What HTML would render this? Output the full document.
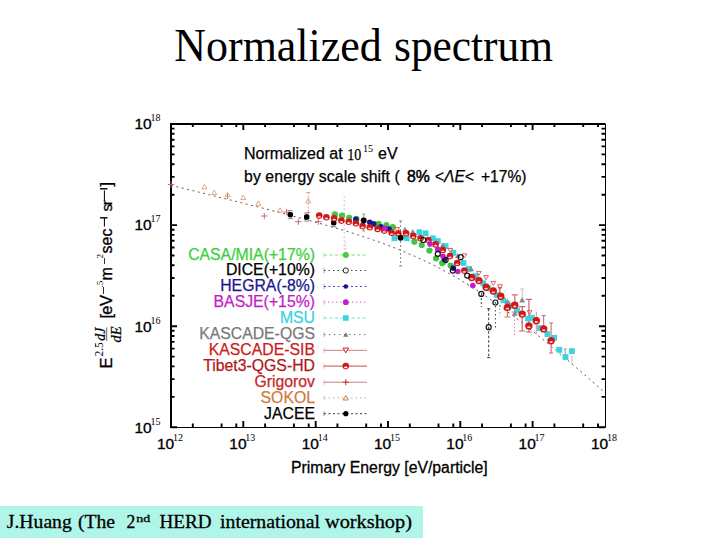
<!DOCTYPE html>
<html><head><meta charset="utf-8"><style>
html,body{margin:0;padding:0;background:#fff;}
body{width:720px;height:540px;position:relative;overflow:hidden;}
svg{position:absolute;left:0;top:0;}
.s{font-family:"Liberation Sans",sans-serif;}
.r{font-family:"Liberation Serif",serif;}
</style></head><body>

<svg width="720" height="540" viewBox="0 0 720 540">
<path d="M171 427.5 H605.5 V124" fill="none" stroke="#000" stroke-width="1"/>
<path d="M171 123 V428 M170 124 H605.5" stroke="#000" stroke-width="2" fill="none"/>
<path d="M171.0 427 v-6 M171.0 124 v6 M192.8 427 v-3.5 M192.8 124 v3 M221.6 427 v-3.5 M221.6 124 v3 M236.3 427 v-3.5 M236.3 124 v3 M243.3 427 v-6 M243.3 124 v6 M265.1 427 v-3.5 M265.1 124 v3 M293.9 427 v-3.5 M293.9 124 v3 M308.7 427 v-3.5 M308.7 124 v3 M315.7 427 v-6 M315.7 124 v6 M337.4 427 v-3.5 M337.4 124 v3 M366.2 427 v-3.5 M366.2 124 v3 M381.0 427 v-3.5 M381.0 124 v3 M388.0 427 v-6 M388.0 124 v6 M409.8 427 v-3.5 M409.8 124 v3 M438.5 427 v-3.5 M438.5 124 v3 M453.3 427 v-3.5 M453.3 124 v3 M460.3 427 v-6 M460.3 124 v6 M482.1 427 v-3.5 M482.1 124 v3 M510.9 427 v-3.5 M510.9 124 v3 M525.6 427 v-3.5 M525.6 124 v3 M532.6 427 v-6 M532.6 124 v6 M554.4 427 v-3.5 M554.4 124 v3 M583.2 427 v-3.5 M583.2 124 v3 M598.0 427 v-3.5 M598.0 124 v3" stroke="#000" stroke-width="1.9"/>
<path d="M171 427.3 h6 M605 427.3 h-6 M171 396.9 h3.5 M605 396.9 h-3.5 M171 379.1 h3.5 M605 379.1 h-3.5 M171 366.4 h3.5 M605 366.4 h-3.5 M171 356.6 h3.5 M605 356.6 h-3.5 M171 348.6 h3.5 M605 348.6 h-3.5 M171 341.9 h3.5 M605 341.9 h-3.5 M171 336.0 h3.5 M605 336.0 h-3.5 M171 330.8 h3.5 M605 330.8 h-3.5 M171 326.2 h6 M605 326.2 h-6 M171 295.8 h3.5 M605 295.8 h-3.5 M171 278.0 h3.5 M605 278.0 h-3.5 M171 265.3 h3.5 M605 265.3 h-3.5 M171 255.5 h3.5 M605 255.5 h-3.5 M171 247.5 h3.5 M605 247.5 h-3.5 M171 240.8 h3.5 M605 240.8 h-3.5 M171 234.9 h3.5 M605 234.9 h-3.5 M171 229.7 h3.5 M605 229.7 h-3.5 M171 225.1 h6 M605 225.1 h-6 M171 194.7 h3.5 M605 194.7 h-3.5 M171 176.9 h3.5 M605 176.9 h-3.5 M171 164.2 h3.5 M605 164.2 h-3.5 M171 154.4 h3.5 M605 154.4 h-3.5 M171 146.4 h3.5 M605 146.4 h-3.5 M171 139.7 h3.5 M605 139.7 h-3.5 M171 133.8 h3.5 M605 133.8 h-3.5 M171 128.6 h3.5 M605 128.6 h-3.5" stroke="#000" stroke-width="1.9"/>
<text x="157.0" y="449" class="s" font-size="15.5" fill="#000" stroke="#000" stroke-width="0.35">10</text>
<text x="173.0" y="441" class="r" font-size="10" fill="#000">12</text>
<text x="229.3" y="449" class="s" font-size="15.5" fill="#000" stroke="#000" stroke-width="0.35">10</text>
<text x="245.3" y="441" class="r" font-size="10" fill="#000">13</text>
<text x="301.7" y="449" class="s" font-size="15.5" fill="#000" stroke="#000" stroke-width="0.35">10</text>
<text x="317.7" y="441" class="r" font-size="10" fill="#000">14</text>
<text x="374.0" y="449" class="s" font-size="15.5" fill="#000" stroke="#000" stroke-width="0.35">10</text>
<text x="390.0" y="441" class="r" font-size="10" fill="#000">15</text>
<text x="446.3" y="449" class="s" font-size="15.5" fill="#000" stroke="#000" stroke-width="0.35">10</text>
<text x="462.3" y="441" class="r" font-size="10" fill="#000">16</text>
<text x="518.6" y="449" class="s" font-size="15.5" fill="#000" stroke="#000" stroke-width="0.35">10</text>
<text x="534.6" y="441" class="r" font-size="10" fill="#000">17</text>
<text x="591.0" y="449" class="s" font-size="15.5" fill="#000" stroke="#000" stroke-width="0.35">10</text>
<text x="607.0" y="441" class="r" font-size="10" fill="#000">18</text>
<text x="134.5" y="432.6" class="s" font-size="15.5" fill="#000" stroke="#000" stroke-width="0.35">10</text>
<text x="150.5" y="424.6" class="r" font-size="10" fill="#000">15</text>
<text x="134.5" y="331.5" class="s" font-size="15.5" fill="#000" stroke="#000" stroke-width="0.35">10</text>
<text x="150.5" y="323.5" class="r" font-size="10" fill="#000">16</text>
<text x="134.5" y="230.4" class="s" font-size="15.5" fill="#000" stroke="#000" stroke-width="0.35">10</text>
<text x="150.5" y="222.4" class="r" font-size="10" fill="#000">17</text>
<text x="134.5" y="129.3" class="s" font-size="15.5" fill="#000" stroke="#000" stroke-width="0.35">10</text>
<text x="150.5" y="121.3" class="r" font-size="10" fill="#000">18</text>
<text x="291" y="472.5" class="s" font-size="15.8" fill="#000" stroke="#000" stroke-width="0.3">Primary Energy [eV/particle]</text>
<text x="315" y="259.8" class="s" font-size="15.8" fill="#3ccf3c" stroke="#3ccf3c" stroke-width="0.25" text-anchor="end">CASA/MIA(+17%)</text>
<text x="315" y="275.3" class="s" font-size="15.8" fill="#000" stroke="#000" stroke-width="0.25" text-anchor="end">DICE(+10%)</text>
<text x="315" y="291.3" class="s" font-size="15.8" fill="#1a168c" stroke="#1a168c" stroke-width="0.25" text-anchor="end">HEGRA(-8%)</text>
<text x="315" y="307.0" class="s" font-size="15.8" fill="#c21ec8" stroke="#c21ec8" stroke-width="0.25" text-anchor="end">BASJE(+15%)</text>
<text x="315" y="322.8" class="s" font-size="15.8" fill="#38d4e0" stroke="#38d4e0" stroke-width="0.25" text-anchor="end">MSU</text>
<text x="315" y="339.4" class="s" font-size="15.8" fill="#7a7a7a" stroke="#7a7a7a" stroke-width="0.25" text-anchor="end">KASCADE-QGS</text>
<text x="315" y="355.1" class="s" font-size="15.8" fill="#cc1c1c" stroke="#cc1c1c" stroke-width="0.25" text-anchor="end">KASCADE-SIB</text>
<text x="315" y="370.9" class="s" font-size="15.8" fill="#b01818" stroke="#b01818" stroke-width="0.25" text-anchor="end">Tibet3-QGS-HD</text>
<text x="315" y="387.0" class="s" font-size="15.8" fill="#c42a2a" stroke="#c42a2a" stroke-width="0.25" text-anchor="end">Grigorov</text>
<text x="315" y="402.7" class="s" font-size="15.8" fill="#d07a3c" stroke="#d07a3c" stroke-width="0.25" text-anchor="end">SOKOL</text>
<text x="315" y="418.5" class="s" font-size="15.8" fill="#000" stroke="#000" stroke-width="0.25" text-anchor="end">JACEE</text>
<text x="244" y="159.3" class="s" font-size="16" fill="#000" stroke="#000" stroke-width="0.25">Normalized at</text>
<text x="347.3" y="160" class="r" font-size="16.5" fill="#000" stroke="#000" stroke-width="0.25" textLength="14" lengthAdjust="spacingAndGlyphs">10</text>
<text x="363" y="152" class="r" font-size="10" fill="#000">15</text>
<text x="378" y="159.3" class="s" font-size="16" fill="#000" stroke="#000" stroke-width="0.25">eV</text>
<text x="244" y="182.4" class="s" font-size="15.8" fill="#000" stroke="#000" stroke-width="0.25" letter-spacing="0.1">by energy scale shift (</text>
<text x="407" y="182.4" class="s" font-size="15.8" fill="#000" stroke="#000" stroke-width="0.5">8%</text>
<text x="435" y="182.4" class="s" font-size="15.6" fill="#000" stroke="#000" stroke-width="0.25">&lt;<tspan font-style="italic">&#923;E</tspan>&lt;</text>
<text x="481" y="182.4" class="s" font-size="15.6" fill="#000" stroke="#000" stroke-width="0.25">+17%)</text>
<g transform="translate(112,368) rotate(-90)" fill="#000"><text x="-0.5" y="0" class="s" font-size="16.5" stroke="#000" stroke-width="0.3">E</text><text x="11.5" y="-9" class="r" font-size="11.5">2.5</text><text x="27.3" y="-6.6" class="r" font-style="italic" font-size="14" stroke="#000" stroke-width="0.25">dJ</text><rect x="27" y="-5.7" width="13.5" height="0.9" fill="#555"/><text x="25.6" y="8.9" class="r" font-style="italic" font-size="14.5" stroke="#000" stroke-width="0.25">dE</text><text x="49.4" y="0" class="s" font-size="16.5" stroke="#000" stroke-width="0.3" letter-spacing="-0.6">[eV</text><rect x="74" y="-8.9" width="7" height="0.8" fill="#000"/><text x="80.5" y="-9" class="r" font-size="9">.5</text><text x="87.6" y="0" class="s" font-size="16" stroke="#000" stroke-width="0.3">m</text><rect x="104" y="-8.0" width="6" height="0.8" fill="#000"/><text x="109.5" y="-9" class="r" font-size="9">2</text><text x="114.6" y="0" class="s" font-size="16" stroke="#000" stroke-width="0.3">sec</text><rect x="141.5" y="-8.1" width="8.5" height="1.0" fill="#000"/><rect x="149.5" y="-12" width="1.4" height="7.5" fill="#000"/><text x="156.5" y="0" class="s" font-size="15.5" stroke="#000" stroke-width="0.3" letter-spacing="-1.6">sr</text><rect x="167.5" y="-8.1" width="10" height="1.0" fill="#000"/><rect x="178.5" y="-12" width="1.4" height="7.5" fill="#000"/><text x="181.6" y="0" class="s" font-size="16.5" stroke="#000" stroke-width="0.3">]</text></g>
<path d="M171.0 185.3 L176.5 186.7 L182.0 188.0 L187.4 189.4 L192.9 190.7 L198.4 192.1 L203.9 193.4 L209.4 194.8 L214.8 196.1 L220.3 197.5 L225.8 198.9 L231.3 200.2 L236.8 201.6 L242.3 203.0 L247.7 204.4 L253.2 205.8 L258.7 207.1 L264.2 208.5 L269.7 210.0 L275.1 211.4 L280.6 212.8 L286.1 214.2 L291.6 215.7 L297.1 217.2 L302.5 218.6 L308.0 220.1 L313.5 221.6 L319.0 223.2 L324.5 224.7 L329.9 226.3 L335.4 227.9 L340.9 229.6 L346.4 231.2 L351.9 232.9 L357.4 234.7 L362.8 236.5 L368.3 238.3 L373.8 240.2 L379.3 242.1 L384.8 244.1 L390.2 246.2 L395.7 248.3 L401.2 250.5 L406.7 252.8 L412.2 255.2 L417.6 257.6 L423.1 260.1 L428.6 262.8 L434.1 265.5 L439.6 268.3 L445.1 271.3 L450.5 274.3 L456.0 277.4 L461.5 280.6 L467.0 284.0 L472.5 287.4 L477.9 291.0 L483.4 294.6 L488.9 298.3 L494.4 302.2 L499.9 306.1 L505.3 310.1 L510.8 314.2 L516.3 318.3 L521.8 322.6 L527.3 326.9 L532.7 331.2 L538.2 335.6 L543.7 340.1 L549.2 344.6 L554.7 349.2 L560.2 353.8 L565.6 358.5 L571.1 363.2 L576.6 367.9 L582.1 372.6 L587.6 377.4 L593.0 382.2 L598.5 387.0 L604.0 391.9" fill="none" stroke="#505050" stroke-width="0.95" stroke-dasharray="2 3.5"/>
<g><path d="M344.2 196 V252" stroke="#d0c0c0" stroke-width="0.9" stroke-dasharray="2 2" opacity="1"/><path d="M400.6 221 V266" stroke="#888" stroke-width="1" stroke-dasharray="2 2" opacity="1"/><path d="M399.1 221 h3 M399.1 266 h3" stroke="#888" stroke-width="1" opacity="1"/><path d="M363.7 214 V231" stroke="#999" stroke-width="1" opacity="1"/><path d="M362.2 214 h3 M362.2 231 h3" stroke="#999" stroke-width="1" opacity="1"/><path d="M308.3 192.5 V212.5" stroke="#e0a080" stroke-width="0.9" stroke-dasharray="2 1.5" opacity="1"/><path d="M306.3 192.5 h4 M306.3 212.5 h4" stroke="#e0a080" stroke-width="0.9" opacity="1"/><path d="M227.5 194 V199" stroke="#d07a3c" stroke-width="1" opacity="1"/><path d="M481.3 294 V307" stroke="#444" stroke-width="1" stroke-dasharray="2 2" opacity="1"/><path d="M495.4 302 V328" stroke="#444" stroke-width="1" stroke-dasharray="1.5 2.5" opacity="1"/><path d="M488.7 308.7 V357.6" stroke="#333" stroke-width="1" stroke-dasharray="2.5 2" opacity="1"/><path d="M487.2 308.7 h3 M487.2 357.6 h3" stroke="#333" stroke-width="1" opacity="1"/><path d="M499.8 287.8 V299.4" stroke="#cc1c1c" stroke-width="1" opacity="1"/><path d="M497.8 287.8 h4 M497.8 299.4 h4" stroke="#cc1c1c" stroke-width="1" opacity="1"/><path d="M499.8 305 V316" stroke="#999" stroke-width="1" stroke-dasharray="1.5 2" opacity="1"/><path d="M514.6 316 V335" stroke="#e08080" stroke-width="1" stroke-dasharray="1.5 2" opacity="1"/><path d="M507.4 302 V317" stroke="#cc7070" stroke-width="1.2" opacity="1"/><path d="M504.4 302 h6 M504.4 317 h6" stroke="#cc7070" stroke-width="1.2" opacity="1"/><path d="M514.8 294.8 V312" stroke="#cc7070" stroke-width="1.2" opacity="1"/><path d="M511.79999999999995 294.8 h6 M511.79999999999995 312 h6" stroke="#cc7070" stroke-width="1.2" opacity="1"/><path d="M522.2 306.7 V331" stroke="#c06868" stroke-width="1.2" opacity="1"/><path d="M519.2 306.7 h6 M519.2 331 h6" stroke="#c06868" stroke-width="1.2" opacity="1"/><path d="M528.9 299.3 V332" stroke="#c06868" stroke-width="1.2" opacity="1"/><path d="M525.9 299.3 h6 M525.9 332 h6" stroke="#c06868" stroke-width="1.2" opacity="1"/><path d="M522.2 289 V300" stroke="#c0c0c0" stroke-width="1" opacity="1"/><path d="M520.2 289 h4 M520.2 300 h4" stroke="#c0c0c0" stroke-width="1" opacity="1"/><path d="M543.7 315.6 V327.4" stroke="#d06060" stroke-width="1" opacity="1"/><path d="M541.7 315.6 h4 M541.7 327.4 h4" stroke="#d06060" stroke-width="1" opacity="1"/><path d="M551.1 323 V353" stroke="#d06060" stroke-width="1" opacity="1"/><path d="M549.1 323 h4 M549.1 353 h4" stroke="#d06060" stroke-width="1" opacity="1"/><path d="M536.3 312 V334" stroke="#e09090" stroke-width="1" opacity="1"/><path d="M565.2 349 V358" stroke="#999" stroke-width="1" opacity="1"/><path d="M563.7 349 h3 M563.7 358 h3" stroke="#999" stroke-width="1" opacity="1"/><path d="M571.9 356 V364" stroke="#bbb" stroke-width="1" opacity="1"/><path d="M201.8 188.78 L207.0 188.78 L204.4 184.35999999999999 Z" fill="none" stroke="#dc9a70" stroke-width="0.85"/><path d="M211.6 194.58 L216.79999999999998 194.58 L214.2 190.16 Z" fill="none" stroke="#dc9a70" stroke-width="0.85"/><path d="M224.9 196.78 L230.1 196.78 L227.5 192.35999999999999 Z" fill="none" stroke="#dc9a70" stroke-width="0.85"/><path d="M240.70000000000002 199.58 L245.9 199.58 L243.3 195.16 Z" fill="none" stroke="#dc9a70" stroke-width="0.85"/><path d="M255.70000000000002 205.38000000000002 L260.90000000000003 205.38000000000002 L258.3 200.96 Z" fill="none" stroke="#dc9a70" stroke-width="0.85"/><path d="M277.4 212.08 L282.6 212.08 L280 207.66 Z" fill="none" stroke="#dc9a70" stroke-width="0.85"/><path d="M305.7 202.88000000000002 L310.90000000000003 202.88000000000002 L308.3 198.46 Z" fill="none" stroke="#dc9a70" stroke-width="0.85"/><path d="M167.8 184.5 h6.4 M171 181.3 v6.4" stroke="#c85a5a" stroke-width="0.9"/><path d="M261.1 216 h6.4 M264.3 212.8 v6.4" stroke="#c85a5a" stroke-width="0.9"/><path d="M283.5 212 h6.4 M286.7 208.8 v6.4" stroke="#c85a5a" stroke-width="0.9"/><path d="M295.1 221.7 h6.4 M298.3 218.5 v6.4" stroke="#c85a5a" stroke-width="0.9"/><path d="M315.1 221.7 h6.4 M318.3 218.5 v6.4" stroke="#c85a5a" stroke-width="0.9"/><rect x="287.6" y="212.0" width="5.4" height="5.4" rx="1.8" fill="#000"/><rect x="304.0" y="214.3" width="5.4" height="5.4" rx="1.8" fill="#000"/><rect x="331.0" y="220.10000000000002" width="5.4" height="5.4" rx="1.8" fill="#000"/><path d="M287.8 210.7 h5 M287.8 218.7 h5" stroke="#666" stroke-width="0.8"/><path d="M304.2 213 h5 M304.2 221 h5" stroke="#666" stroke-width="0.8"/><path d="M331.2 218.8 h5 M331.2 226.8 h5" stroke="#666" stroke-width="0.8"/><circle cx="334.8" cy="214.4" r="3.1" fill="#44c444"/><circle cx="342" cy="215.6" r="3.1" fill="#44c444"/><circle cx="349.2" cy="217.8" r="3.1" fill="#44c444"/><circle cx="356.4" cy="218.9" r="3.1" fill="#44c444"/><circle cx="378.7" cy="223.9" r="3.1" fill="#44c444"/><circle cx="386.4" cy="225" r="3.1" fill="#44c444"/><circle cx="392.8" cy="227.2" r="3.1" fill="#44c444"/><circle cx="414.4" cy="241.7" r="3.1" fill="#44c444"/><circle cx="421.7" cy="245" r="3.1" fill="#44c444"/><circle cx="429.4" cy="250.6" r="3.1" fill="#44c444"/><circle cx="436.1" cy="258.3" r="3.1" fill="#44c444"/><circle cx="443.9" cy="261.7" r="3.1" fill="#44c444"/><circle cx="450.6" cy="265.6" r="3.1" fill="#44c444"/><circle cx="442.2" cy="263" r="3.1" fill="#44c444"/><circle cx="355.9" cy="219.4" r="2.8" fill="#1a168c"/><circle cx="369.8" cy="222.2" r="2.8" fill="#1a168c"/><circle cx="373.7" cy="223.9" r="2.8" fill="#1a168c"/><circle cx="380.9" cy="226.7" r="2.8" fill="#1a168c"/><circle cx="444.4" cy="258.9" r="2.8" fill="#1a168c"/><circle cx="453.3" cy="268.1" r="2.8" fill="#1a168c"/><circle cx="389" cy="229" r="2.8" fill="#1a168c"/><rect x="391.5" y="235.4" width="5.8" height="5.8" fill="#38d4e0"/><rect x="403.8" y="235.4" width="5.8" height="5.8" fill="#38d4e0"/><rect x="416.5" y="229.29999999999998" width="5.8" height="5.8" fill="#38d4e0"/><rect x="422.70000000000005" y="230.4" width="5.8" height="5.8" fill="#38d4e0"/><rect x="429.90000000000003" y="235.4" width="5.8" height="5.8" fill="#38d4e0"/><rect x="434.90000000000003" y="238.2" width="5.8" height="5.8" fill="#38d4e0"/><rect x="442.70000000000005" y="243.2" width="5.8" height="5.8" fill="#38d4e0"/><rect x="450.40000000000003" y="249.9" width="5.8" height="5.8" fill="#38d4e0"/><rect x="460.6" y="260.1" width="5.8" height="5.8" fill="#38d4e0"/><rect x="466.0" y="266.0" width="5.8" height="5.8" fill="#38d4e0"/><rect x="472.70000000000005" y="273.20000000000005" width="5.8" height="5.8" fill="#38d4e0"/><rect x="480.40000000000003" y="280.40000000000003" width="5.8" height="5.8" fill="#38d4e0"/><rect x="485.40000000000003" y="285.40000000000003" width="5.8" height="5.8" fill="#38d4e0"/><rect x="493.8" y="292.1" width="5.8" height="5.8" fill="#38d4e0"/><rect x="500.40000000000003" y="297.40000000000003" width="5.8" height="5.8" fill="#38d4e0"/><rect x="507.90000000000003" y="302.90000000000003" width="5.8" height="5.8" fill="#38d4e0"/><rect x="514.1" y="307.5" width="5.8" height="5.8" fill="#38d4e0"/><rect x="525.2" y="315.6" width="5.8" height="5.8" fill="#38d4e0"/><rect x="529.0" y="314.90000000000003" width="5.8" height="5.8" fill="#38d4e0"/><rect x="537.1" y="325.20000000000005" width="5.8" height="5.8" fill="#38d4e0"/><rect x="544.5" y="331.20000000000005" width="5.8" height="5.8" fill="#38d4e0"/><rect x="551.2" y="334.90000000000003" width="5.8" height="5.8" fill="#38d4e0"/><rect x="556.4" y="346.90000000000003" width="5.8" height="5.8" fill="#38d4e0"/><rect x="562.6" y="354.1" width="5.8" height="5.8" fill="#38d4e0"/><rect x="569.0" y="348.20000000000005" width="5.8" height="5.8" fill="#38d4e0"/><path d="M402 231.8 L408 231.8 L405 226.70000000000002 Z" fill="#8a8a8a"/><path d="M409.8 234.1 L415.8 234.1 L412.8 229.0 Z" fill="#8a8a8a"/><path d="M439.8 247.4 L445.8 247.4 L442.8 242.3 Z" fill="#8a8a8a"/><path d="M454.8 258.0 L460.8 258.0 L457.8 252.9 Z" fill="#8a8a8a"/><path d="M468.1 271.29999999999995 L474.1 271.29999999999995 L471.1 266.2 Z" fill="#8a8a8a"/><path d="M504.4 303.9 L510.4 303.9 L507.4 298.8 Z" fill="#8a8a8a"/><path d="M519.2 302.4 L525.2 302.4 L522.2 297.3 Z" fill="#8a8a8a"/><path d="M511.79999999999995 315.7 L517.8 315.7 L514.8 310.6 Z" fill="#8a8a8a"/><circle cx="319.2" cy="215.6" r="3.3" fill="#d01818"/><ellipse cx="319.2" cy="216.9" rx="1.7" ry="0.9" fill="#fff" opacity="0.8"/><circle cx="326.4" cy="217.2" r="3.3" fill="#d01818"/><ellipse cx="326.4" cy="218.5" rx="1.7" ry="0.9" fill="#fff" opacity="0.8"/><circle cx="334.2" cy="218.3" r="3.3" fill="#d01818"/><ellipse cx="334.2" cy="219.60000000000002" rx="1.7" ry="0.9" fill="#fff" opacity="0.8"/><circle cx="341.4" cy="220.6" r="3.3" fill="#d01818"/><ellipse cx="341.4" cy="221.9" rx="1.7" ry="0.9" fill="#fff" opacity="0.8"/><circle cx="348.7" cy="221.7" r="3.3" fill="#d01818"/><ellipse cx="348.7" cy="223.0" rx="1.7" ry="0.9" fill="#fff" opacity="0.8"/><circle cx="355.9" cy="223.3" r="3.3" fill="#d01818"/><ellipse cx="355.9" cy="224.60000000000002" rx="1.7" ry="0.9" fill="#fff" opacity="0.8"/><circle cx="362.6" cy="226.1" r="3.3" fill="#d01818"/><ellipse cx="362.6" cy="227.4" rx="1.7" ry="0.9" fill="#fff" opacity="0.8"/><circle cx="369.8" cy="227.2" r="3.3" fill="#d01818"/><ellipse cx="369.8" cy="228.5" rx="1.7" ry="0.9" fill="#fff" opacity="0.8"/><circle cx="377.6" cy="228.9" r="3.3" fill="#d01818"/><ellipse cx="377.6" cy="230.20000000000002" rx="1.7" ry="0.9" fill="#fff" opacity="0.8"/><circle cx="384.2" cy="230.6" r="3.3" fill="#d01818"/><ellipse cx="384.2" cy="231.9" rx="1.7" ry="0.9" fill="#fff" opacity="0.8"/><circle cx="391.7" cy="232.8" r="3.3" fill="#d01818"/><ellipse cx="391.7" cy="234.10000000000002" rx="1.7" ry="0.9" fill="#fff" opacity="0.8"/><circle cx="398.3" cy="233.3" r="3.3" fill="#d01818"/><ellipse cx="398.3" cy="234.60000000000002" rx="1.7" ry="0.9" fill="#fff" opacity="0.8"/><circle cx="406.1" cy="233.3" r="3.3" fill="#d01818"/><ellipse cx="406.1" cy="234.60000000000002" rx="1.7" ry="0.9" fill="#fff" opacity="0.8"/><circle cx="413.3" cy="236.1" r="3.3" fill="#d01818"/><ellipse cx="413.3" cy="237.4" rx="1.7" ry="0.9" fill="#fff" opacity="0.8"/><circle cx="420.6" cy="238.3" r="3.3" fill="#d01818"/><ellipse cx="420.6" cy="239.60000000000002" rx="1.7" ry="0.9" fill="#fff" opacity="0.8"/><circle cx="428.3" cy="240" r="3.3" fill="#d01818"/><ellipse cx="428.3" cy="241.3" rx="1.7" ry="0.9" fill="#fff" opacity="0.8"/><circle cx="435.6" cy="244.4" r="3.3" fill="#d01818"/><ellipse cx="435.6" cy="245.70000000000002" rx="1.7" ry="0.9" fill="#fff" opacity="0.8"/><circle cx="442.8" cy="250" r="3.3" fill="#d01818"/><ellipse cx="442.8" cy="251.3" rx="1.7" ry="0.9" fill="#fff" opacity="0.8"/><circle cx="450" cy="256.1" r="3.3" fill="#d01818"/><ellipse cx="450" cy="257.40000000000003" rx="1.7" ry="0.9" fill="#fff" opacity="0.8"/><circle cx="457.2" cy="263" r="3.3" fill="#d01818"/><ellipse cx="457.2" cy="264.3" rx="1.7" ry="0.9" fill="#fff" opacity="0.8"/><circle cx="464.4" cy="270.6" r="3.3" fill="#d01818"/><ellipse cx="464.4" cy="271.90000000000003" rx="1.7" ry="0.9" fill="#fff" opacity="0.8"/><circle cx="471.7" cy="277.5" r="3.7" fill="#d01818"/><ellipse cx="471.7" cy="278.8" rx="1.7" ry="0.9" fill="#fff" opacity="0.8"/><circle cx="478.9" cy="280.6" r="3.7" fill="#d01818"/><ellipse cx="478.9" cy="281.90000000000003" rx="1.7" ry="0.9" fill="#fff" opacity="0.8"/><circle cx="486.1" cy="287.3" r="3.7" fill="#d01818"/><ellipse cx="486.1" cy="288.6" rx="1.7" ry="0.9" fill="#fff" opacity="0.8"/><circle cx="493.3" cy="291" r="3.7" fill="#d01818"/><ellipse cx="493.3" cy="292.3" rx="1.7" ry="0.9" fill="#fff" opacity="0.8"/><circle cx="500.7" cy="296.3" r="3.7" fill="#d01818"/><ellipse cx="500.7" cy="297.6" rx="1.7" ry="0.9" fill="#fff" opacity="0.8"/><circle cx="507.4" cy="307.4" r="3.7" fill="#d01818"/><ellipse cx="507.4" cy="308.7" rx="1.7" ry="0.9" fill="#fff" opacity="0.8"/><circle cx="514.8" cy="305.2" r="3.7" fill="#d01818"/><ellipse cx="514.8" cy="306.5" rx="1.7" ry="0.9" fill="#fff" opacity="0.8"/><circle cx="522.2" cy="314.1" r="3.7" fill="#d01818"/><ellipse cx="522.2" cy="315.40000000000003" rx="1.7" ry="0.9" fill="#fff" opacity="0.8"/><circle cx="528.9" cy="325.9" r="3.7" fill="#d01818"/><ellipse cx="528.9" cy="327.2" rx="1.7" ry="0.9" fill="#fff" opacity="0.8"/><circle cx="536.3" cy="320.7" r="3.7" fill="#d01818"/><ellipse cx="536.3" cy="322.0" rx="1.7" ry="0.9" fill="#fff" opacity="0.8"/><circle cx="543.7" cy="328.9" r="3.7" fill="#d01818"/><ellipse cx="543.7" cy="330.2" rx="1.7" ry="0.9" fill="#fff" opacity="0.8"/><circle cx="551.1" cy="340.7" r="3.7" fill="#d01818"/><ellipse cx="551.1" cy="342.0" rx="1.7" ry="0.9" fill="#fff" opacity="0.8"/><circle cx="384.8" cy="228.3" r="2.8" fill="#c21ec8"/><circle cx="430" cy="243.9" r="2.8" fill="#c21ec8"/><circle cx="437.8" cy="249.4" r="2.8" fill="#c21ec8"/><circle cx="443" cy="256.3" r="2.8" fill="#c21ec8"/><circle cx="457.8" cy="271.5" r="2.8" fill="#c21ec8"/><circle cx="472.8" cy="285.6" r="2.8" fill="#c21ec8"/><path d="M394.8 227.48000000000002 L399.59999999999997 227.48000000000002 L397.2 231.56 Z" fill="none" stroke="#d85050" stroke-width="0.9"/><path d="M448.0 248.48000000000002 L452.79999999999995 248.48000000000002 L450.4 252.56 Z" fill="none" stroke="#d85050" stroke-width="0.9"/><path d="M462.0 253.88000000000002 L466.79999999999995 253.88000000000002 L464.4 257.96000000000004 Z" fill="none" stroke="#d85050" stroke-width="0.9"/><path d="M476.5 271.38 L481.29999999999995 271.38 L478.9 275.46000000000004 Z" fill="none" stroke="#d85050" stroke-width="0.9"/><path d="M483.70000000000005 275.58 L488.5 275.58 L486.1 279.66 Z" fill="none" stroke="#d85050" stroke-width="0.9"/><path d="M490.90000000000003 281.38 L495.7 281.38 L493.3 285.46000000000004 Z" fill="none" stroke="#d85050" stroke-width="0.9"/><path d="M497.6 284.78 L502.4 284.78 L500 288.86 Z" fill="none" stroke="#d85050" stroke-width="0.9"/><path d="M527.2 310.68 L532.0 310.68 L529.6 314.76000000000005 Z" fill="none" stroke="#d85050" stroke-width="0.9"/><circle cx="423.3" cy="240" r="2.5" fill="none" stroke="#111" stroke-width="1.2"/><circle cx="437.8" cy="253.9" r="2.5" fill="none" stroke="#111" stroke-width="1.2"/><circle cx="445.6" cy="260" r="2.5" fill="none" stroke="#111" stroke-width="1.2"/><circle cx="452.8" cy="270.6" r="2.5" fill="none" stroke="#111" stroke-width="1.2"/><circle cx="460.6" cy="257.2" r="2.5" fill="none" stroke="#111" stroke-width="1.2"/><circle cx="467.2" cy="275.6" r="2.5" fill="none" stroke="#111" stroke-width="1.2"/><circle cx="481.3" cy="293.9" r="2.5" fill="none" stroke="#111" stroke-width="1.2"/><circle cx="495.4" cy="302.5" r="2.5" fill="none" stroke="#111" stroke-width="1.2"/><circle cx="488.7" cy="327.2" r="2.5" fill="none" stroke="#111" stroke-width="1.2"/><circle cx="363.7" cy="220.6" r="3" fill="#000"/><circle cx="400.6" cy="237.8" r="3" fill="#000"/></g>
<g><path d="M324 255 H367" stroke="#70d870" stroke-width="0.9" stroke-dasharray="3 2.5"/><path d="M324 252.5 v5" stroke="#70d870" stroke-width="0.8" opacity="0.6"/><path d="M324 270.5 H367" stroke="#333" stroke-width="0.9" stroke-dasharray="1.5 3"/><path d="M324 268.0 v5" stroke="#333" stroke-width="0.8" opacity="0.6"/><path d="M324 286.5 H367" stroke="#3a3a9a" stroke-width="0.9" stroke-dasharray="2 2.5"/><path d="M324 284.0 v5" stroke="#3a3a9a" stroke-width="0.8" opacity="0.6"/><path d="M324 302.2 H367" stroke="#d060d0" stroke-width="0.9" stroke-dasharray="1.5 2.5"/><path d="M324 299.7 v5" stroke="#d060d0" stroke-width="0.8" opacity="0.6"/><path d="M324 318 H367" stroke="#60d8e4" stroke-width="0.9" stroke-dasharray="3 2.5"/><path d="M324 315.5 v5" stroke="#60d8e4" stroke-width="0.8" opacity="0.6"/><path d="M324 334.6 H367" stroke="#666" stroke-width="0.9" stroke-dasharray="1.5 3.5"/><path d="M324 332.1 v5" stroke="#666" stroke-width="0.8" opacity="0.6"/><path d="M324 350.3 H367" stroke="#c87070" stroke-width="0.9"/><path d="M324 347.8 v5" stroke="#c87070" stroke-width="0.8" opacity="0.6"/><path d="M324 366.1 H367" stroke="#c05050" stroke-width="1"/><path d="M324 363.6 v5" stroke="#c05050" stroke-width="0.8" opacity="0.6"/><path d="M324 382.2 H367" stroke="#c87070" stroke-width="0.9"/><path d="M324 379.7 v5" stroke="#c87070" stroke-width="0.8" opacity="0.6"/><path d="M324 397.9 H367" stroke="#d89868" stroke-width="0.9" stroke-dasharray="1.5 3"/><path d="M324 395.4 v5" stroke="#d89868" stroke-width="0.8" opacity="0.6"/><path d="M324 413.7 H367" stroke="#222" stroke-width="0.9" stroke-dasharray="2 2.5"/><path d="M324 411.2 v5" stroke="#222" stroke-width="0.8" opacity="0.6"/></g>
<g><circle cx="345.8" cy="255" r="3" fill="#3ccf3c"/><path d="M345.8 242 V255" stroke="#e0a0a0" stroke-width="0.8" stroke-dasharray="1.5 1.5" opacity="1"/><circle cx="345.8" cy="270.5" r="2.6" fill="#fff" stroke="#222" stroke-width="1"/><circle cx="345.8" cy="286.5" r="2.3" fill="#1a168c"/><circle cx="345.8" cy="302.2" r="2.9" fill="#c21ec8"/><rect x="343.0" y="315.2" width="5.6" height="5.6" fill="#38d4e0"/><path d="M343.2 336.68 L348.40000000000003 336.68 L345.8 332.26000000000005 Z" fill="#7a7a7a"/><path d="M343.0 348.06 L348.6 348.06 L345.8 352.82 Z" fill="#fff" stroke="#cc1c1c" stroke-width="1"/><circle cx="345.8" cy="366.1" r="3.3" fill="#d01818"/><ellipse cx="345.8" cy="367.40000000000003" rx="1.7" ry="0.9" fill="#fff"/><path d="M342.8 382.2 h6 M345.8 379.2 v6" stroke="#c42a2a" stroke-width="1"/><path d="M343.2 399.97999999999996 L348.40000000000003 399.97999999999996 L345.8 395.56 Z" fill="#fff" stroke="#d07a3c" stroke-width="1"/><circle cx="345.8" cy="413.7" r="2.6" fill="#000"/></g>
<g transform="translate(0,61) scale(1,1.04)" fill="#000"><text class="r" font-size="44" x="174.3" y="0" textLength="207.5" lengthAdjust="spacingAndGlyphs">Normalized</text><text class="r" font-size="44" x="394" y="0" textLength="159" lengthAdjust="spacingAndGlyphs">spectrum</text></g>
<rect x="0" y="506" width="423" height="32" fill="#b0f6e8"/>
<g transform="translate(0,528) scale(1,0.94)" fill="#000" stroke="#000" stroke-width="0.3"><text class="r" font-size="19.5" x="6.8" y="0" textLength="65" lengthAdjust="spacingAndGlyphs">J.Huang</text><text class="r" font-size="19.5" x="78" y="0" textLength="37" lengthAdjust="spacingAndGlyphs">(The</text><text class="r" font-size="19.5" x="126.6" y="0" textLength="8.8" lengthAdjust="spacingAndGlyphs">2</text><text class="r" font-size="19.5" x="159.5" y="0" textLength="52" lengthAdjust="spacingAndGlyphs">HERD</text><text class="r" font-size="19.5" x="220" y="0" textLength="100" lengthAdjust="spacingAndGlyphs">international</text><text class="r" font-size="19.5" x="325" y="0" textLength="87" lengthAdjust="spacingAndGlyphs">workshop)</text><text class="r" font-size="12"  x="136.2" y="-6.5" textLength="14" lengthAdjust="spacingAndGlyphs">nd</text></g>
</svg>
</body></html>
